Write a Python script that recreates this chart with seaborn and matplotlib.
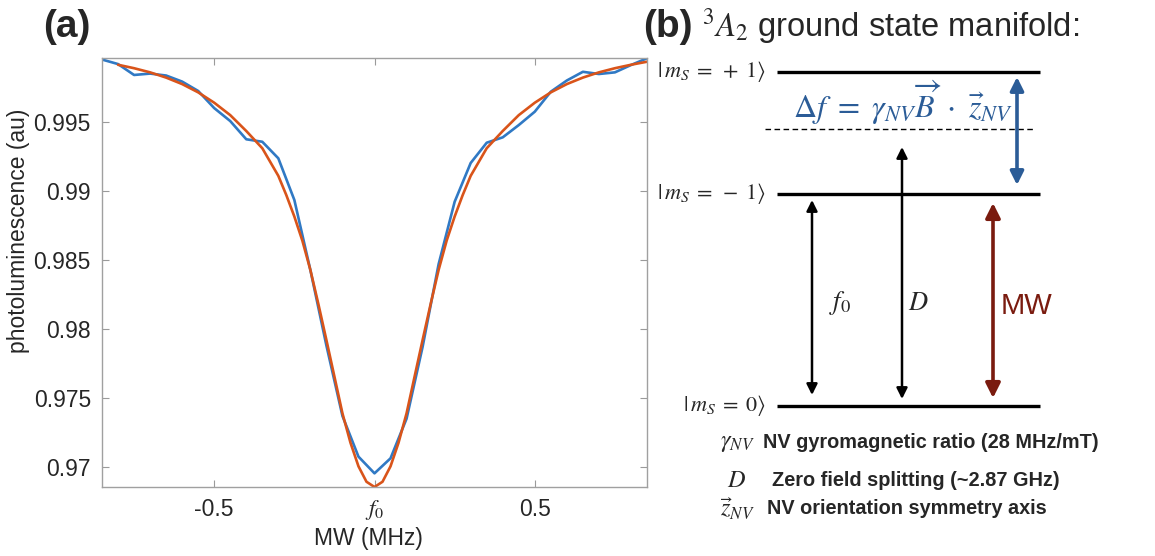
import numpy as np
import pandas as pd
import matplotlib.pyplot as plt
import seaborn as sns

# ODMR dip: measured photoluminescence (blue) and fitted curve (orange)
mw_data = [-0.85, -0.80, -0.75, -0.70, -0.65, -0.60, -0.55, -0.50, -0.45, -0.40,
           -0.35, -0.30, -0.25, -0.20, -0.15, -0.10, -0.05, 0.00, 0.05, 0.10,
           0.15, 0.20, 0.25, 0.30, 0.35, 0.40, 0.45, 0.50, 0.55, 0.60,
           0.65, 0.70, 0.75, 0.80, 0.85]
pl_data = [0.99953, 0.99920, 0.99841, 0.99851, 0.99837, 0.99793, 0.99725, 0.99601, 0.99507, 0.99375,
           0.99357, 0.99237, 0.98935, 0.98427, 0.97880, 0.97370, 0.97075, 0.96954, 0.97063, 0.97350,
           0.97870, 0.98470, 0.98922, 0.99203, 0.99350, 0.99389, 0.99478, 0.99575, 0.99720, 0.99801,
           0.99864, 0.99848, 0.99860, 0.99913, 0.99962]

mw_fit = [-0.80, -0.75, -0.70, -0.65, -0.60, -0.55, -0.50, -0.45, -0.40, -0.35,
          -0.30, -0.275, -0.25, -0.225, -0.20, -0.175, -0.15, -0.125, -0.10, -0.075,
          -0.05, -0.025, 0.00, 0.025, 0.05, 0.075, 0.10, 0.125, 0.15, 0.175,
          0.20, 0.225, 0.25, 0.275, 0.30, 0.35, 0.40, 0.45, 0.50, 0.55,
          0.60, 0.65, 0.70, 0.75, 0.80, 0.85]
pl_fit = [0.99915, 0.99890, 0.99860, 0.99822, 0.99775, 0.99715, 0.99640, 0.99550, 0.99435, 0.99310,
          0.99110, 0.98970, 0.98815, 0.98640, 0.98428, 0.98180, 0.97920, 0.97655, 0.97389, 0.97176,
          0.97005, 0.96893, 0.96855, 0.96893, 0.97005, 0.97176, 0.97389, 0.97655, 0.97920, 0.98180,
          0.98428, 0.98640, 0.98815, 0.98970, 0.99110, 0.99310, 0.99435, 0.99550, 0.99640, 0.99715,
          0.99775, 0.99822, 0.99860, 0.99890, 0.99915, 0.99937]

xtick_vals = [-0.5, 0.0, 0.5]
xtick_labels = ['-0.5', r'$f_0$', '0.5']
ytick_vals = [0.97, 0.975, 0.98, 0.985, 0.99, 0.995]
ytick_labels = ['0.97', '0.975', '0.98', '0.985', '0.99', '0.995']

# energy level diagram (positions in figure pixels, y down)
level_labels = [r'$\vert\,m_S\;=\;+\;1\rangle$', r'$\vert\,m_S\;=\;-\;1\rangle$', r'$\vert\,m_S\;=\;0\rangle$']
level_y = [71.7, 194, 405.7]
zfs_y = 129

legend_symbols = [r'$\gamma_{NV}$', r'$D$', r'$\vec{z}_{NV}$']
legend_texts = ['NV gyromagnetic ratio (28 MHz/mT)', 'Zero field splitting (~2.87 GHz)',
                'NV orientation symmetry axis']

sns.set_theme(style='white')
plt.rcParams['font.family'] = ['Liberation Sans', 'DejaVu Sans']
plt.rcParams['mathtext.fontset'] = 'stix'

W, H = 1155, 556
fig = plt.figure(figsize=(W / 100, H / 100), dpi=100)

# --- (a) ODMR spectrum ---
ax = fig.add_axes([102 / W, 1 - 487 / H, 545 / W, 429 / H])
sns.lineplot(x=mw_data, y=pl_data, ax=ax, color='#3079C4', linewidth=1.9)
sns.lineplot(x=mw_fit, y=pl_fit, ax=ax, color='#D9541A', linewidth=1.9)
ax.set_xlim(-0.85, 0.85)
ax.set_ylim(0.96855, 0.99964)
ax.set_xticks(xtick_vals, xtick_labels)
ax.set_yticks(ytick_vals, ytick_labels)
ax.tick_params(direction='in', bottom=True, left=True, top=True, right=True,
               length=5, width=0.8, color='#9a9a9a', labelsize=16.5,
               labelcolor='#262626', pad=8)
for s in ax.spines.values():
    s.set_color('#a0a0a0')
    s.set_linewidth(1.0)
ax.set_xlabel('MW (MHz)', fontsize=16.5, color='#262626')
ax.xaxis.label.set_va('center')
ax.xaxis.set_label_coords(0.488, -0.119)
ax.set_ylabel('photoluminescence (au)', fontsize=16.5, color='#262626')
ax.yaxis.label.set_va('center')
ax.yaxis.set_label_coords(-0.154, 0.597)

fig.text(43 / W, 1 - 37 / H, '(a)', fontsize=28, fontweight='bold', va='baseline', ha='left')
fig.text(643 / W, 1 - 37 / H, '(b)', fontsize=28, fontweight='bold', va='baseline', ha='left')
fig.text(702 / W, 1 - 36 / H, r'${}^{3}A_{2}$ ground state manifold:', fontsize=23.5,
         va='baseline', ha='left')

# --- (b) level diagram ---
ax2 = fig.add_axes([650 / W, 0, 505 / W, 1])
ax2.set_xlim(650, 1155)
ax2.set_ylim(H, 0)
ax2.axis('off')

ax2.hlines(level_y, 777, 1040, color='black', linewidth=2.4)
ax2.hlines(zfs_y, 765, 1035, color='black', linewidth=1.0, linestyles=(0, (4, 2.5)))
for lab, y in zip(level_labels, level_y):
    ax2.text(766, y, lab, ha='right', va='center', fontsize=16)

blue = '#2B5C97'
red = '#7A1B0F'


def double_arrow(x, y0, y1, color, lw, ms):
    ax2.annotate('', xy=(x, y0), xytext=(x, y1),
                 arrowprops=dict(arrowstyle='<|-|>', color=color, lw=lw,
                                 mutation_scale=ms, shrinkA=0, shrinkB=0))


double_arrow(812, 200, 395, 'black', 1.8, 16)
double_arrow(902, 147, 399, 'black', 1.8, 16)
double_arrow(993, 203, 398, red, 2.6, 22)
double_arrow(1017, 77, 185, blue, 2.6, 20)

ax2.text(829, 303, r'$f_0$', fontsize=19, ha='left', va='center')
ax2.text(908, 303, r'$D$', fontsize=19, ha='left', va='center')
ax2.text(1001, 306, 'MW', fontsize=21, color=red, ha='left', va='center')
ax2.text(903, 103, r'$\Delta f\ =\ \gamma_{NV}\overrightarrow{B}\ \cdot\ \vec{z}_{NV}$',
         fontsize=23, color=blue, ha='center', va='center')

for sym, txt, y, x in zip(legend_symbols, legend_texts, [443, 481, 509], [763, 772, 767]):
    ax2.text(737, y, sym, fontsize=17.5, ha='center', va='center')
    ax2.text(x, y, txt, fontsize=14.3, fontweight='bold', ha='left', va='center')

plt.savefig('out.png', dpi=100)
